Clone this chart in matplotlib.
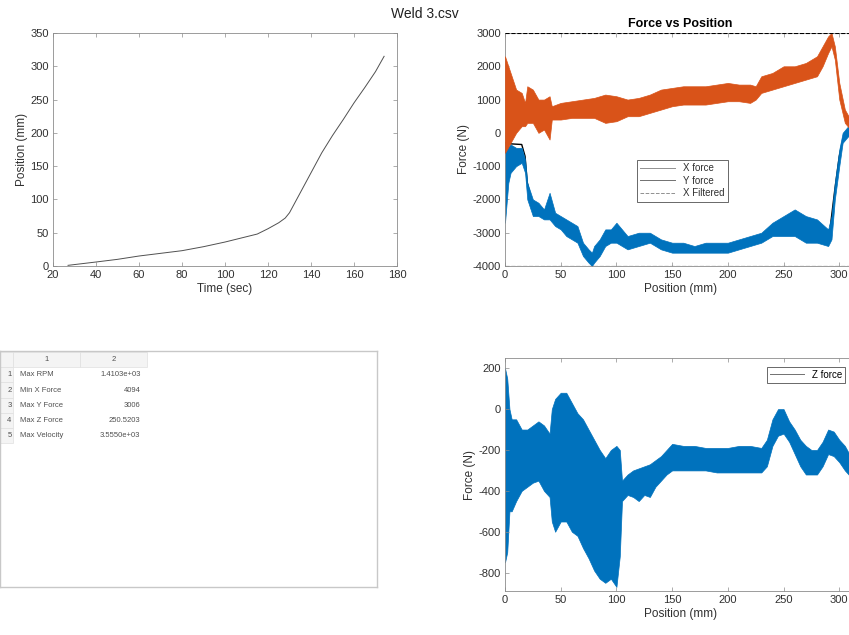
import numpy as np
import matplotlib.pyplot as plt
from matplotlib.lines import Line2D

plt.rcParams.update({'font.family': 'Liberation Sans', 'font.size': 8,
                     'axes.edgecolor': '#8c8c8c', 'xtick.color': '#8c8c8c',
                     'ytick.color': '#8c8c8c', 'xtick.labelcolor': '#303030',
                     'ytick.labelcolor': '#303030', 'xtick.direction': 'in',
                     'ytick.direction': 'in', 'axes.linewidth': 0.6,
                     'axes.unicode_minus': False})

BLUE = '#0072BD'
ORANGE = '#D95319'

# position vs time
time_s = [27, 40, 50, 60, 70, 80, 90, 100, 110, 115, 120, 125, 128, 130,
          135, 140, 145, 150, 155, 160, 165, 170, 174]
pos_mm = [1, 6, 10, 15, 19, 23, 29, 36, 44, 48, 56, 65, 72, 80,
          110, 140, 170, 196, 220, 245, 268, 292, 315]

# force vs position: envelopes of the noisy signals
y_pos = [0, 5, 10, 15, 18, 20, 25, 30, 35, 40, 42, 50, 60, 70, 80, 90, 100,
         110, 120, 130, 140, 150, 160, 170, 180, 190, 200, 210, 220, 225,
         230, 240, 250, 260, 270, 280, 285, 290, 293, 296, 300, 305, 310, 315]
y_hi = [2300, 1800, 1300, 1200, 900, 1400, 1300, 1000, 1000, 1100, 800, 900,
        950, 1000, 1050, 1150, 1100, 1000, 1050, 1150, 1300, 1350, 1400, 1400,
        1400, 1450, 1500, 1450, 1450, 1400, 1700, 1800, 2000, 2000, 2100, 2300,
        2600, 2900, 3000, 2600, 1500, 700, 400, 100]
y_lo = [-600, -300, 0, 200, 200, 300, 300, 0, 100, -200, 400, 400, 450, 450,
        450, 300, 350, 500, 500, 600, 700, 800, 850, 850, 850, 900, 950, 950,
        900, 1000, 1200, 1300, 1400, 1500, 1600, 1700, 2000, 2400, 2600, 2200,
        1000, 300, 100, -100]

x_pos = [0, 3, 5, 10, 15, 18, 20, 25, 30, 35, 40, 45, 50, 55, 60, 65, 70, 75,
         78, 80, 85, 90, 95, 100, 110, 120, 130, 140, 150, 160, 170, 180, 190,
         200, 210, 220, 230, 240, 250, 260, 270, 280, 290, 293, 296, 300, 303,
         308, 315]
x_hi = [-300, -400, -350, -450, -450, -800, -1500, -2000, -2100, -2300, -1800,
        -2400, -2500, -2600, -2700, -2800, -3300, -3500, -3600, -3400, -3200,
        -2900, -2900, -2700, -3100, -3000, -3000, -3200, -3300, -3300, -3400,
        -3300, -3300, -3300, -3200, -3100, -3000, -2700, -2500, -2300, -2500,
        -2600, -2900, -2500, -1500, -500, 0, 200, 200]
x_lo = [-2700, -1500, -1200, -1000, -900, -1200, -2000, -2500, -2500, -2600,
        -2600, -2800, -2900, -3100, -3200, -3300, -3700, -3900, -4000, -3900,
        -3700, -3400, -3300, -3300, -3500, -3400, -3300, -3500, -3600, -3600,
        -3600, -3600, -3600, -3600, -3500, -3400, -3300, -3100, -3100, -3100,
        -3300, -3300, -3400, -3200, -2000, -1000, -300, -100, -300]

# filtered x force, visible only where it leaves the band (gap = hidden part)
filt_pos = [0, 5, 15, 18, 20, 25, np.nan, 292, 296, 300, 304, 310]
filt_val = [-300, -330, -350, -700, -1500, -2200, np.nan, -2800, -1700, -700, -100, 100]
force_limits = [3000, -4000]

# z force envelope
z_pos = [0, 2, 4, 6, 10, 15, 20, 25, 30, 35, 40, 42, 45, 50, 55, 60, 65, 70,
         75, 80, 85, 90, 95, 100, 103, 105, 110, 115, 120, 125, 130, 135, 140,
         145, 150, 160, 170, 180, 190, 200, 210, 220, 230, 235, 240, 245, 250,
         255, 260, 265, 270, 275, 280, 285, 290, 295, 300, 305, 310, 315]
z_hi = [200, 150, 0, -50, -50, -100, -100, -80, -60, -80, -120, 0, 50, 80, 80,
        30, -20, -50, -100, -150, -200, -240, -200, -180, -200, -350, -320,
        -300, -290, -280, -270, -250, -230, -200, -170, -180, -180, -190, -190,
        -190, -180, -180, -190, -150, -50, 0, 0, -60, -100, -150, -180, -200,
        -200, -160, -100, -110, -150, -180, -230, -260]
z_lo = [-750, -700, -500, -500, -450, -400, -380, -360, -350, -400, -430,
        -550, -600, -550, -550, -600, -620, -680, -730, -790, -830, -850,
        -830, -870, -720, -450, -420, -430, -450, -420, -430, -380, -350,
        -320, -300, -300, -300, -300, -310, -310, -310, -310, -310, -280,
        -180, -130, -120, -160, -220, -280, -320, -320, -320, -280, -220,
        -230, -260, -300, -330, -340]

stat_names = ['Max RPM', 'Min X Force', 'Max Y Force', 'Max Z Force', 'Max Velocity']
stat_vals = ['1.4103e+03', '4094', '3006', '250.5203', '3.5550e+03']

fig = plt.figure(figsize=(8.49, 6.35), dpi=100)
W, H = 849, 635


def box(l, t, r, b):
    return [l / W, 1 - b / H, (r - l) / W, (b - t) / H]


fig.text(425 / W, 1 - 14 / H, 'Weld 3.csv', ha='center', va='center',
         fontsize=10, color='#202020')

# top left
ax1 = fig.add_axes(box(53, 33, 397, 266))
ax1.plot(time_s, pos_mm, color='#505050', lw=0.7)
ax1.set_xlim(20, 180)
ax1.set_ylim(0, 350)
ax1.set_xticks(np.arange(20, 181, 20))
ax1.set_yticks(np.arange(0, 351, 50))
ax1.set_xlabel('Time (sec)', fontsize=8.5, color='#303030', labelpad=2)
ax1.set_ylabel('Position (mm)', fontsize=8.5, color='#303030', labelpad=2)
ax1.tick_params(top=True, right=True, labelsize=8, length=3, width=0.5, pad=3)

# top right
ax2 = fig.add_axes(box(505, 33, 856, 266))
ax2.plot(filt_pos, filt_val, color='black', lw=1.0, zorder=1)
ax2.fill_between(x_pos, x_lo, x_hi, color=BLUE, lw=0.5, ec=BLUE, zorder=2)
ax2.fill_between(y_pos, y_lo, y_hi, color=ORANGE, lw=0.5, ec=ORANGE, zorder=3)
for lim in force_limits:
    ax2.axhline(lim, color='black', ls='--', lw=0.8, zorder=4)
ax2.set_xlim(0, 315)
ax2.set_ylim(-4000, 3000)
ax2.set_xticks(np.arange(0, 301, 50))
ax2.set_yticks(np.arange(-4000, 3001, 1000))
ax2.set_title('Force vs Position', fontsize=9, fontweight='bold', pad=4)
ax2.set_xlabel('Position (mm)', fontsize=8.5, color='#303030', labelpad=2)
ax2.set_ylabel('Force (N)', fontsize=8.5, color='#303030', labelpad=2)
ax2.tick_params(top=True, right=True, labelsize=8, length=3, width=0.5, pad=3)
handles = [Line2D([], [], color='#909090', lw=0.7),
           Line2D([], [], color='#707070', lw=0.7),
           Line2D([], [], color='#909090', lw=0.7, ls='--')]
leg = ax2.legend(handles, ['X force', 'Y force', 'X Filtered'], loc='upper left',
                 bbox_to_anchor=(632 / W, 1 - 155 / H), bbox_transform=fig.transFigure,
                 fontsize=7, fancybox=False, framealpha=1, edgecolor='#505050',
                 handlelength=3.6, borderpad=0.35, labelspacing=0.25)
leg.get_frame().set_linewidth(0.6)
for t in leg.get_texts():
    t.set_color('#303030')

# bottom right
ax3 = fig.add_axes(box(505, 358, 856, 591))
ax3.fill_between(z_pos, z_lo, z_hi, color=BLUE, lw=0.5, ec=BLUE)
ax3.set_xlim(0, 315)
ax3.set_ylim(-890, 250)
ax3.set_xticks(np.arange(0, 301, 50))
ax3.set_yticks(np.arange(-800, 201, 200))
ax3.set_xlabel('Position (mm)', fontsize=8.5, color='#303030', labelpad=2)
ax3.set_ylabel('Force (N)', fontsize=8.5, color='#303030', labelpad=2)
ax3.tick_params(top=True, right=True, labelsize=8, length=3, width=0.5, pad=3)
leg3 = ax3.legend([Line2D([], [], color='#707070', lw=0.7)], ['Z force'],
                  loc='upper left', bbox_to_anchor=(762 / W, 1 - 362 / H),
                  bbox_transform=fig.transFigure, fontsize=7, fancybox=False,
                  framealpha=1, edgecolor='#505050', handlelength=3.5,
                  borderpad=0.3)
leg3.get_frame().set_linewidth(0.6)

# table
ax4 = fig.add_axes(box(0, 351, 377, 587))
ax4.set_xticks([])
ax4.set_yticks([])
for s in ax4.spines.values():
    s.set_color('#c8c8c8')
    s.set_linewidth(1.0)
rows = [[str(i + 1), n, v] for i, (n, v) in enumerate(zip(stat_names, stat_vals))]
tbl = ax4.table(cellText=rows, colLabels=['', '1', '2'], cellLoc='left',
                colWidths=[0.05, 0.175, 0.175],
                bbox=[-0.015, 0.61, 0.405, 0.385])
tbl.auto_set_font_size(False)
tbl.set_fontsize(5.5)
for (r, c), cell in tbl.get_celld().items():
    cell.set_edgecolor('#e0e0e0')
    cell.set_linewidth(0.5)
    cell.get_text().set_color('#505050')
    if r == 0:
        cell.set_facecolor('#f4f4f4')
        cell.get_text().set_ha('center')
    elif c == 0:
        cell.set_facecolor('#f4f4f4')
        cell.get_text().set_ha('right')
    else:
        cell.set_facecolor('#eeeeee' if r % 2 == 0 else 'white')
        cell.visible_edges = ''
        if c == 2:
            cell.get_text().set_ha('right')

fig.savefig('out.png', dpi=100)
